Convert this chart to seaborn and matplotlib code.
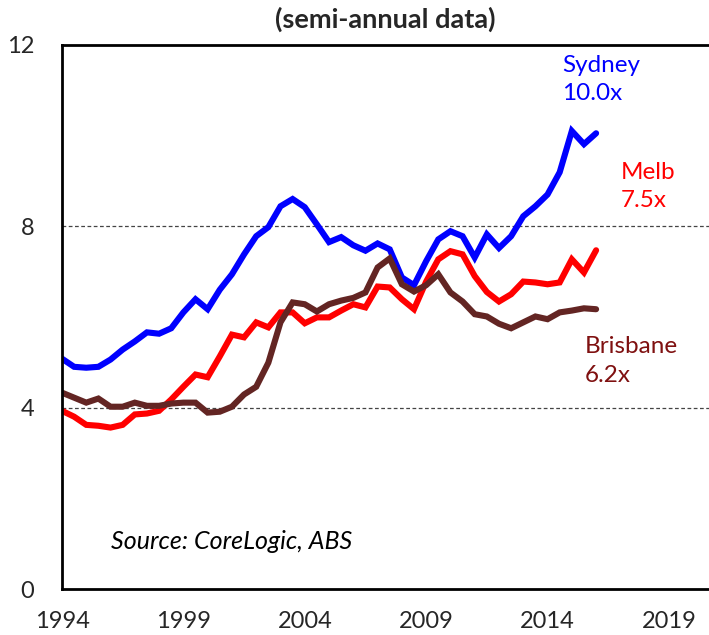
import numpy as np
import pandas as pd
import matplotlib
matplotlib.use("Agg")
import matplotlib.pyplot as plt
import seaborn as sns

years = [1994 + 0.5 * i for i in range(45)]
sydney = [5.08, 4.90, 4.88, 4.90, 5.06, 5.28, 5.46, 5.66, 5.63, 5.75,
          6.10, 6.39, 6.17, 6.60, 6.94, 7.38, 7.78, 7.98, 8.44, 8.60,
          8.42, 8.04, 7.65, 7.76, 7.58, 7.46, 7.62, 7.49, 6.87, 6.70,
          7.23, 7.71, 7.89, 7.78, 7.31, 7.82, 7.52, 7.78, 8.22, 8.44,
          8.70, 9.19, 10.10, 9.81, 10.05]
melb = [3.93, 3.80, 3.62, 3.60, 3.56, 3.62, 3.85, 3.87, 3.93, 4.18,
        4.46, 4.73, 4.67, 5.13, 5.61, 5.55, 5.88, 5.77, 6.10, 6.10,
        5.86, 5.99, 5.99, 6.14, 6.28, 6.21, 6.67, 6.65, 6.39, 6.17,
        6.78, 7.27, 7.45, 7.38, 6.90, 6.55, 6.34, 6.50, 6.78, 6.76,
        6.72, 6.76, 7.27, 6.98, 7.47]
brisbane = [4.33, 4.22, 4.11, 4.20, 4.02, 4.02, 4.11, 4.04, 4.04, 4.09,
            4.11, 4.11, 3.89, 3.91, 4.02, 4.29, 4.46, 4.99, 5.88, 6.32,
            6.28, 6.12, 6.28, 6.36, 6.42, 6.54, 7.09, 7.29, 6.72, 6.56,
            6.70, 6.94, 6.54, 6.34, 6.06, 6.01, 5.85, 5.75, 5.88, 6.01,
            5.95, 6.10, 6.14, 6.19, 6.17]
cities = ["Sydney", "Melb", "Brisbane"]
colors = {"Sydney": "#0000FF", "Melb": "#FF0000", "Brisbane": "#632523"}
xticks = [1994, 1999, 2004, 2009, 2014, 2019]
yticks = [0, 4, 8, 12]

df = pd.DataFrame({
    "year": years * 3,
    "ratio": sydney + melb + brisbane,
    "city": ["Sydney"] * 45 + ["Melb"] * 45 + ["Brisbane"] * 45,
})

sns.set_style("white")
plt.rcParams["font.family"] = ["Lato", "DejaVu Sans"]

fig = plt.figure(figsize=(7.09, 6.35), dpi=100)
ax = fig.add_axes([0.0874, 0.0724, 1 - 0.0874, 0.857])

sns.lineplot(data=df, x="year", y="ratio", hue="city", hue_order=cities,
             palette=colors, linewidth=4.4, legend=False, ax=ax,
             solid_joinstyle="miter")

ax.set_xlim(1994, 2020.65)
ax.set_ylim(0, 12)
ax.set_xticks(xticks)
ax.set_xticklabels([str(t) for t in xticks], fontsize=17)
ax.set_yticks(yticks)
ax.set_yticklabels([str(t) for t in yticks], fontsize=17)
ax.tick_params(axis="x", direction="in", length=8, width=1.5, pad=16, color="black")
ax.tick_params(axis="y", length=0, pad=20)
ax.set_xlabel("")
ax.set_ylabel("")

for yv in [4, 8]:
    ax.axhline(yv, color="#444444", linestyle=(0, (3, 2)), linewidth=0.9, zorder=0)

for side in ["left", "bottom", "top"]:
    ax.spines[side].set_visible(True)
    ax.spines[side].set_color("black")
    ax.spines[side].set_linewidth(2)
ax.spines["right"].set_visible(False)

ax.set_title("(semi-annual data)", fontsize=19.5, fontweight="bold", pad=12)

ax.text(2014.6, 11.78, "Sydney\n10.0x", color="#0000FF", fontsize=17.5,
        va="top", ha="left", linespacing=1.45)
ax.text(2017.0, 9.42, "Melb\n7.5x", color="#FF0000", fontsize=17.5,
        va="top", ha="left", linespacing=1.45)
ax.text(2015.55, 5.57, "Brisbane\n6.2x", color="#7F1010", fontsize=17.5,
        va="top", ha="left", linespacing=1.45)
ax.text(1996.0, 1.05, "Source: CoreLogic, ABS", fontsize=18, style="italic",
        va="center", ha="left", color="black")

fig.savefig("out.png", dpi=100)
